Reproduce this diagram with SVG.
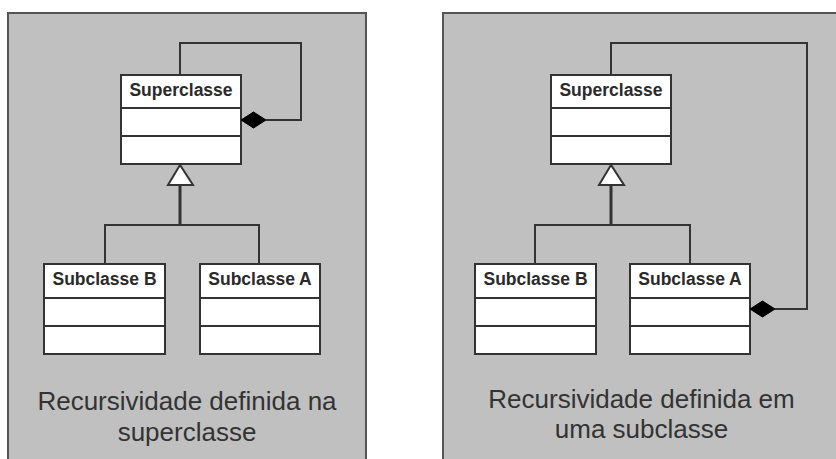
<svg xmlns="http://www.w3.org/2000/svg" width="836" height="459" viewBox="0 0 836 459">
<style>
.panel{fill:#c0c0c0;stroke:#555;stroke-width:2}
.box{fill:#fff;stroke:#333;stroke-width:2}
.div{stroke:#333;stroke-width:2}
.name{font-family:"Liberation Sans",Arial,sans-serif;font-weight:bold;font-size:17.5px;fill:#2a2a2a;text-anchor:middle}
.cap{font-family:"Liberation Sans",Arial,sans-serif;font-size:26px;fill:#333;text-anchor:middle}
.ln{fill:none;stroke:#333;stroke-width:2}
.gen{fill:none;stroke:#333;stroke-width:3}
.tri{fill:#fff;stroke:#333;stroke-width:2}
.dia{fill:#000;stroke:#000;stroke-width:1}
</style>
<rect class="panel" x="8" y="13" width="358" height="500"/>
<rect class="panel" x="443" y="13" width="500" height="500"/>
<g id="left-superclasse">
<rect class="box" x="121" y="75" width="120" height="89"/>
<line class="div" x1="121" y1="108" x2="241" y2="108"/>
<line class="div" x1="121" y1="136" x2="241" y2="136"/>
<text class="name" x="181" y="96">Superclasse</text>
</g>
<g id="left-subclasse-b">
<rect class="box" x="44" y="264" width="121" height="90"/>
<line class="div" x1="44" y1="298" x2="165" y2="298"/>
<line class="div" x1="44" y1="326" x2="165" y2="326"/>
<text class="name" x="104.5" y="285">Subclasse B</text>
</g>
<g id="left-subclasse-a">
<rect class="box" x="200" y="264" width="120" height="90"/>
<line class="div" x1="200" y1="298" x2="320" y2="298"/>
<line class="div" x1="200" y1="326" x2="320" y2="326"/>
<text class="name" x="260" y="285">Subclasse A</text>
</g>
<g id="right-superclasse">
<rect class="box" x="551" y="75" width="120" height="89"/>
<line class="div" x1="551" y1="108" x2="671" y2="108"/>
<line class="div" x1="551" y1="136" x2="671" y2="136"/>
<text class="name" x="611" y="96">Superclasse</text>
</g>
<g id="right-subclasse-b">
<rect class="box" x="475" y="264" width="121" height="90"/>
<line class="div" x1="475" y1="298" x2="596" y2="298"/>
<line class="div" x1="475" y1="326" x2="596" y2="326"/>
<text class="name" x="535.5" y="285">Subclasse B</text>
</g>
<g id="right-subclasse-a">
<rect class="box" x="630" y="264" width="120" height="90"/>
<line class="div" x1="630" y1="298" x2="750" y2="298"/>
<line class="div" x1="630" y1="326" x2="750" y2="326"/>
<text class="name" x="690" y="285">Subclasse A</text>
</g>
<g id="connectors">
<path class="ln" d="M180 75 V43 H301 V120 H266"/>
<polygon class="dia" points="241,120 253.5,112 266,120 253.5,128"/>
<path class="gen" d="M180 185 V225"/>
<path class="ln" d="M105 264 V225 H259 V264"/>
<polygon class="tri" points="180,165 168,185 193,185"/>
<path class="ln" d="M611 75 V43 H807 V309 H775"/>
<polygon class="dia" points="750,309 762.5,301 775,309 762.5,317"/>
<path class="gen" d="M611 185 V225"/>
<path class="ln" d="M535 264 V225 H690 V264"/>
<polygon class="tri" points="611,165 599,185 624,185"/>
</g>
<text class="cap" x="187" y="410">Recursividade definida na</text>
<text class="cap" x="187" y="441">superclasse</text>
<text class="cap" x="641.5" y="408">Recursividade definida em</text>
<text class="cap" x="641.5" y="438">uma subclasse</text>
</svg>
